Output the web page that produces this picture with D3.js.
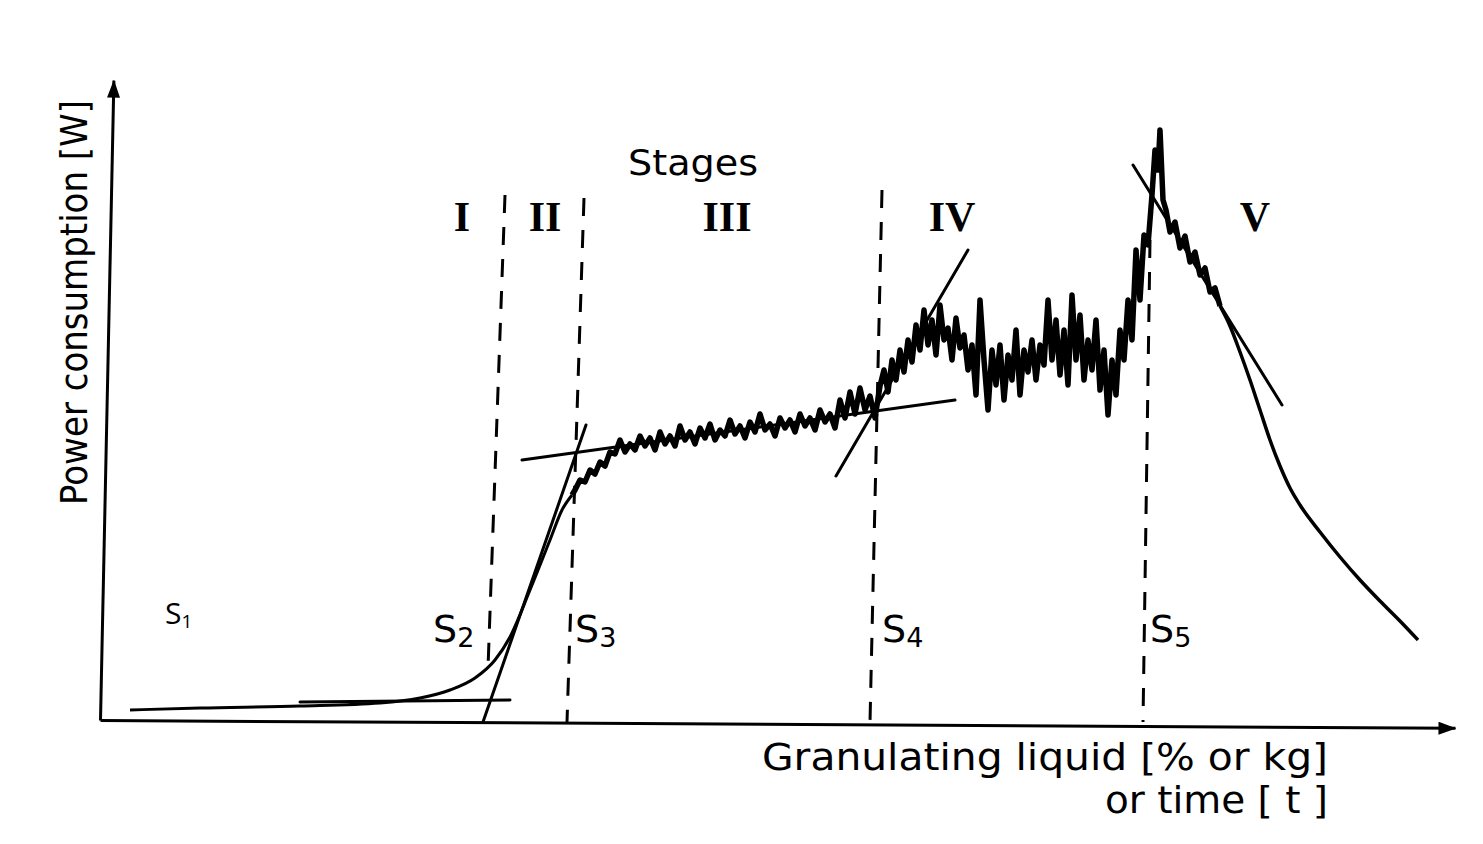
<!DOCTYPE html>
<html>
<head>
<meta charset="utf-8">
<script src="https://cdn.jsdelivr.net/npm/d3@7"></script>
<style>
    body { margin: 0; background: #fff; }
    svg { display: block; }
</style>
</head>
<body>
<div id="chart"></div>
<script>
// power trace: [liquid added, power]
const riseTrace = [
    [3, 1.0], [10, 1.2], [20, 1.4], [28, 1.7], [32, 2.2], [35, 3.0], [37.5, 4.2],
    [39.5, 6.0], [41, 8.3], [43, 13], [45, 18], [46.2, 21], [47.2, 22.5]
]
const stage3Trace = [
    [47.5, 23.0], [48.0, 24.0], [48.5, 23.8], [49.0, 25.0], [49.5, 24.6], [50.0, 25.8],
    [50.5, 25.4], [51.0, 26.8], [51.5, 26.6], [52.0, 28.0], [52.5, 26.8], [53.0, 27.6],
    [53.5, 27.0], [54.0, 28.4], [54.5, 27.4], [55.0, 28.2], [55.5, 27.0], [56.0, 28.8],
    [56.5, 27.6], [57.0, 28.4], [57.5, 27.4], [58.0, 29.4], [58.5, 28.0], [59.0, 28.8],
    [59.5, 27.6], [60.0, 29.2], [60.5, 28.2], [61.0, 29.6], [61.5, 28.0], [62.0, 29.0],
    [62.5, 28.4], [63.0, 30.0], [63.5, 28.6], [64.0, 29.4], [64.5, 28.2], [65.0, 29.8],
    [65.5, 28.8], [66.0, 30.6], [66.5, 29.0], [67.0, 29.6], [67.5, 28.4], [68.0, 30.2],
    [68.5, 29.2], [69.0, 30.0], [69.5, 28.8], [70.0, 30.6], [70.5, 29.4], [71.0, 30.2],
    [71.5, 29.0], [72.0, 31.0], [72.5, 29.8], [73.0, 30.6], [73.5, 29.2], [74.0, 32.0],
    [74.5, 30.2], [75.0, 32.8], [75.5, 30.6], [76.0, 33.2], [76.5, 31.0], [77.0, 32.4],
    [77.5, 30.2], [78.0, 33.4]
]
const stage4Trace = [
    [78.4, 35.0], [78.8, 32.8], [79.2, 36.0], [79.6, 34.0], [80.0, 37.0], [80.4, 34.8],
    [80.8, 38.0], [81.2, 35.8], [81.6, 39.5], [82.0, 37.0], [82.4, 41.0], [82.8, 37.5],
    [83.2, 40.0], [83.6, 36.5], [84.0, 41.5], [84.4, 38.0], [84.8, 39.2], [85.2, 36.0],
    [85.6, 40.2], [86.0, 37.2], [86.4, 38.5], [86.8, 35.0], [87.2, 37.5], [87.6, 32.5],
    [88.0, 42.0], [88.4, 36.0], [88.8, 31.0], [89.2, 37.0], [89.6, 33.5], [90.0, 37.5],
    [90.4, 32.0], [90.8, 36.5], [91.2, 34.0], [91.6, 39.0], [92.0, 32.5], [92.4, 37.0],
    [92.8, 34.8], [93.2, 38.0], [93.6, 34.0], [94.0, 37.5], [94.4, 35.5], [94.8, 42.0],
    [95.2, 36.0], [95.6, 40.0], [96.0, 34.5], [96.4, 39.0], [96.8, 33.5], [97.2, 42.5],
    [97.6, 36.0], [98.0, 40.5], [98.4, 34.0], [98.8, 38.0], [99.2, 35.0], [99.6, 40.0],
    [100.0, 33.0], [100.4, 37.0], [100.8, 30.5], [101.2, 36.0], [101.6, 32.5], [102.0, 39.0],
    [102.4, 36.0], [102.8, 42.0], [103.2, 38.0], [103.6, 47.0], [104.0, 42.0], [104.4, 48.5],
    [104.8, 47.5], [105.2, 52.5], [105.5, 57.0], [105.8, 55.0], [106.0, 59.0], [106.3, 52.0]
]
const stage5Trace = [
    [106.6, 51.0], [107.0, 48.8], [107.5, 49.8], [108.0, 47.2], [108.5, 48.4], [109.0, 45.8],
    [109.5, 46.8], [110.0, 44.5], [110.5, 45.2], [111.0, 42.8], [111.5, 43.2], [112.0, 41.4],
    [113.0, 39.4], [114.0, 36.8], [115.0, 34.0], [116.0, 31.0], [117.0, 28.0], [118.0, 25.4],
    [119.0, 23.2], [120.0, 21.5], [122.0, 18.8], [124.0, 16.3], [126.0, 14.0], [128.0, 11.9],
    [130.0, 9.9], [131.8, 8.0]
]

// straight construction lines (tangents)
const tangents = [
    [[20, 1.8], [41, 2.0]],
    [[38.3, -0.2], [48.6, 29.5]],
    [[42.2, 26.0], [85.5, 32.0]],
    [[73.6, 24.4], [86.8, 47.0]],
    [[103.3, 55.5], [118.2, 31.5]]
]

// stage boundaries (dashed), top and bottom ends
const boundaries = [
    [[40.5, 52.5], [38.8, 5.2]],
    [[48.4, 52.2], [46.7, -0.2]],
    [[78.2, 53.0], [77.0, -0.2]],
    [[105.0, 48.0], [104.3, -0.2]]
]

const stageNames = ['I', 'II', 'III', 'IV', 'V']
const pointNames = ['2', '3', '4', '5']

const WIDTH = 1483
const HEIGHT = 844

const svg = d3.select('#chart')
    .append('svg')
        .attr('width', WIDTH)
        .attr('height', HEIGHT)
        .style('font-family', '"DejaVu Sans", sans-serif')

const x = d3.scaleLinear().domain([0, 135.5]).range([100, 1455])
const y = d3.scaleLinear().domain([0, 64]).range([720, 80])

svg.append('defs').append('marker')
    .attr('id', 'arrow')
    .attr('viewBox', '0 0 18 13')
    .attr('refX', 17)
    .attr('refY', 6.5)
    .attr('markerWidth', 18)
    .attr('markerHeight', 13)
    .attr('markerUnits', 'userSpaceOnUse')
    .attr('orient', 'auto')
  .append('path')
    .attr('d', 'M0,0L18,6.5L0,13Z')
    .attr('fill', '#000')

// axes without ticks, slightly skewed like the scan
svg.append('g')
    .attr('transform', `translate(${ x(0) }, 0) rotate(1.2, 0, ${ y(0) })`)
    .call(d3.axisLeft(y).tickValues([]).tickSizeOuter(0))
svg.append('g')
    .attr('transform', `translate(0, ${ y(0) }) rotate(0.33, ${ x(0) }, 0)`)
    .call(d3.axisBottom(x).tickValues([]).tickSizeOuter(0))

svg.selectAll('.domain')
    .attr('stroke', '#000')
    .attr('stroke-width', 3)
    .attr('marker-end', 'url(#arrow)')

const line = d3.line()
    .x(d => x(d[0]))
    .y(d => y(d[1]))

svg.append('path')
    .datum(riseTrace)
    .attr('d', line.curve(d3.curveMonotoneX))
    .attr('fill', 'none')
    .attr('stroke', '#000')
    .attr('stroke-width', 3)

// noisy recorder trace drawn heavier, smooth tail lighter
const noisy = [riseTrace[riseTrace.length - 1]].concat(stage3Trace, stage4Trace, stage5Trace.slice(0, 12))
const tail = stage5Trace.slice(11)

svg.append('path')
    .datum(noisy)
    .attr('d', line.curve(d3.curveLinear))
    .attr('fill', 'none')
    .attr('stroke', '#000')
    .attr('stroke-width', 5.5)
    .attr('stroke-linejoin', 'round')

svg.append('path')
    .datum(tail)
    .attr('d', line.curve(d3.curveMonotoneX))
    .attr('fill', 'none')
    .attr('stroke', '#000')
    .attr('stroke-width', 3.5)

svg.selectAll('.tangent')
    .data(tangents)
    .enter().append('path')
        .attr('class', 'tangent')
        .attr('d', line.curve(d3.curveLinear))
        .attr('stroke', '#000')
        .attr('stroke-width', 3)
        .attr('stroke-linecap', 'round')

svg.selectAll('.boundary')
    .data(boundaries)
    .enter().append('path')
        .attr('class', 'boundary')
        .attr('d', line)
        .attr('stroke', '#000')
        .attr('stroke-width', 3)
        .attr('stroke-dasharray', '18 14')

// labels
svg.append('text')
    .attr('x', 628)
    .attr('y', 175)
    .attr('font-size', 36)
    .attr('textLength', 130)
    .attr('lengthAdjust', 'spacingAndGlyphs')
    .text('Stages')

const stageX = [462, 545, 727, 952, 1255]
svg.selectAll('.stage')
    .data(stageNames)
    .enter().append('text')
        .attr('class', 'stage')
        .attr('x', (d, i) => stageX[i])
        .attr('y', 231)
        .attr('text-anchor', 'middle')
        .attr('font-family', '"Liberation Serif", serif')
        .attr('font-weight', 'bold')
        .attr('font-size', 42)
        .text(d => d)

const pointX = [433, 575, 882, 1150]
const pointLabels = svg.selectAll('.point')
    .data(pointNames)
    .enter().append('text')
        .attr('class', 'point')
        .attr('x', (d, i) => pointX[i])
        .attr('y', 642)
        .attr('font-size', 38)
pointLabels.append('tspan').text('S')
pointLabels.append('tspan')
    .attr('font-size', 27)
    .attr('dy', 5)
    .text(d => d)

const s1 = svg.append('text')
    .attr('x', 165)
    .attr('y', 624)
    .attr('font-family', '"Open Sans", sans-serif')
    .attr('font-size', 30)
s1.append('tspan').text('S')
s1.append('tspan')
    .attr('font-size', 19)
    .attr('dy', 4)
    .text('1')

svg.append('text')
    .attr('transform', 'translate(87, 505) rotate(-90)')
    .attr('font-size', 38)
    .attr('textLength', 405)
    .attr('lengthAdjust', 'spacingAndGlyphs')
    .text('Power consumption [W]')

svg.append('text')
    .attr('x', 762)
    .attr('y', 770)
    .attr('font-size', 38)
    .attr('textLength', 566)
    .attr('lengthAdjust', 'spacingAndGlyphs')
    .text('Granulating liquid [% or kg]')

svg.append('text')
    .attr('x', 1105)
    .attr('y', 813)
    .attr('font-size', 38)
    .attr('textLength', 223)
    .attr('lengthAdjust', 'spacingAndGlyphs')
    .text('or time [ t ]')
</script>
</body>
</html>
